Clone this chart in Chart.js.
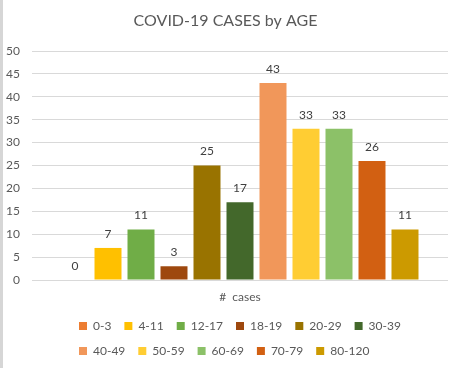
<!DOCTYPE html>
<html>
<head>
<meta charset="utf-8">
<script src="https://cdn.jsdelivr.net/npm/chart.js@4/dist/chart.umd.min.js"></script>
<style>
  html, body { margin: 0; padding: 0; background: #fff; }
  #wrap { width: 459px; height: 368px; border-left: 3px solid #d6d6d6; background: #fff; }
  canvas { display: block; }
</style>
</head>
<body>
<div id="wrap"><canvas id="c" width="459" height="368"></canvas></div>
<script>
const categories = ['#  cases'];
const ageGroups = ['0-3', '4-11', '12-17', '18-19', '20-29', '30-39', '40-49', '50-59', '60-69', '70-79', '80-120'];
const caseCounts = [0, 7, 11, 3, 25, 17, 43, 33, 33, 26, 11];
const groupColors = ['#ED7D31', '#FFC000', '#70AD47', '#9E480E', '#997300', '#43682B', '#F1975A', '#FFCD33', '#8CC168', '#D26012', '#CC9A00'];
const yTicks = [0, 5, 10, 15, 20, 25, 30, 35, 40, 45, 50];

const FONT = 'Lato, "Open Sans", sans-serif';

const valueLabels = {
  id: 'valueLabels',
  afterDatasetsDraw(chart) {
    const ctx = chart.ctx;
    ctx.save();
    ctx.font = '12px ' + FONT;
    ctx.fillStyle = '#404040';
    ctx.textAlign = 'center';
    ctx.textBaseline = 'middle';
    chart.data.datasets.forEach((ds, i) => {
      const meta = chart.getDatasetMeta(i);
      meta.data.forEach((bar, j) => {
        ctx.fillText(String(ds.data[j]), bar.x, bar.y - 14);
      });
    });
    ctx.restore();
  }
};

// keep the legend in two rows (6 + 5 items) starting at the same left edge
const legendBox = {
  id: 'legendBox',
  afterLayout(chart) {
    const lg = chart.legend;
    if (lg) {
      const h = lg.height;
      lg.left = 63; lg.right = 430;
      lg.top = 307; lg.bottom = 307 + h;
    }
  }
};

new Chart(document.getElementById('c'), {
  type: 'bar',
  data: {
    labels: categories,
    datasets: ageGroups.map((g, i) => ({
      label: g,
      data: [caseCounts[i]],
      backgroundColor: groupColors[i],
      borderWidth: 0,
      categoryPercentage: 0.8726,
      barPercentage: 0.818
    }))
  },
  options: {
    responsive: false,
    animation: false,
    layout: { padding: { left: 0, right: 14, top: 0, bottom: 0 } },
    plugins: {
      title: {
        display: true,
        text: 'COVID-19 CASES by AGE',
        color: '#595959',
        font: { family: FONT, size: 16, weight: 'normal' },
        padding: { top: 11.5, bottom: 20.3 }
      },
      legend: {
        position: 'bottom',
        align: 'start',
        labels: {
          boxWidth: 8,
          boxHeight: 8,
          padding: 13,
          color: '#595959',
          font: { family: FONT, size: 12 }
        }
      },
      tooltip: { enabled: false }
    },
    scales: {
      x: {
        grid: { display: false, drawTicks: false },
        border: { display: false },
        ticks: { color: '#595959', font: { family: FONT, size: 12 }, padding: 10 },
        afterFit(scale) { scale.height = 28; }
      },
      y: {
        min: 0,
        max: 50,
        afterBuildTicks(axis) { axis.ticks = yTicks.map(v => ({ value: v })); },
        grid: { color: '#d9d9d9', drawTicks: false },
        border: { display: false },
        ticks: { color: '#595959', font: { family: FONT, size: 12 }, padding: 12 },
        afterFit(scale) { scale.width = 29; }
      }
    }
  },
  plugins: [valueLabels, legendBox]
});
</script>
</body>
</html>
